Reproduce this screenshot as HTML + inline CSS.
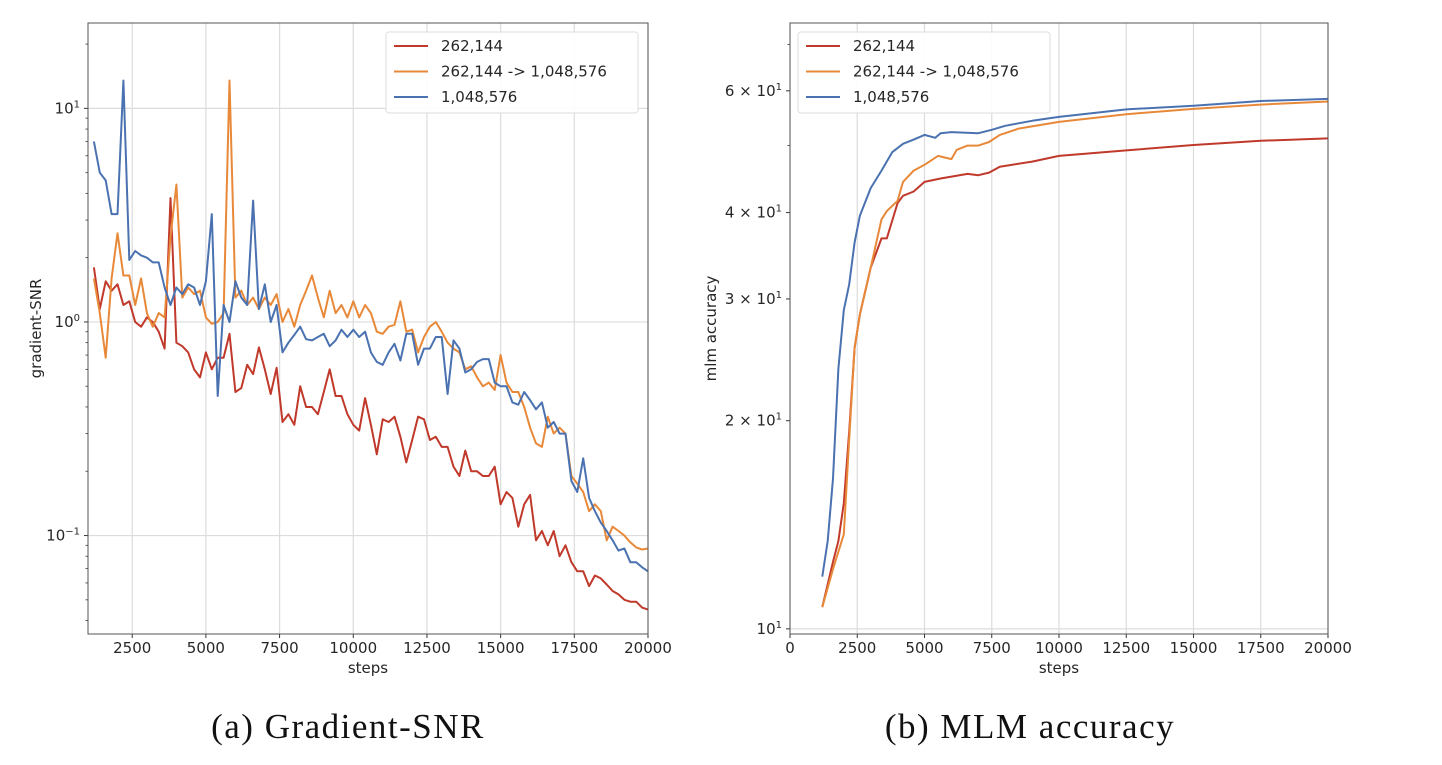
<!DOCTYPE html>
<html><head><meta charset="utf-8"><style>
body{margin:0;background:#fff;width:1442px;height:760px;overflow:hidden}
svg text{font-family:"DejaVu Sans","Liberation Sans",sans-serif;fill:#262626}
</style></head><body>
<svg id="fig" width="1442" height="760"></svg>
<script>
const stepsA=[];for(let s=1200;s<=20000;s+=200)stepsA.push(s);
const snrRed=[1.8,1.15,1.55,1.4,1.5,1.2,1.25,1.0,0.95,1.05,1.0,0.9,0.75,3.8,0.8,0.77,0.72,0.6,0.55,0.72,0.6,0.68,0.68,0.88,0.47,0.49,0.63,0.57,0.76,0.6,0.46,0.61,0.34,0.37,0.33,0.5,0.4,0.4,0.37,0.47,0.6,0.45,0.45,0.37,0.33,0.31,0.44,0.33,0.24,0.35,0.34,0.36,0.29,0.22,0.28,0.36,0.35,0.28,0.29,0.26,0.26,0.21,0.19,0.25,0.2,0.2,0.19,0.19,0.21,0.14,0.16,0.15,0.11,0.14,0.155,0.095,0.105,0.09,0.105,0.08,0.09,0.075,0.068,0.068,0.058,0.065,0.063,0.059,0.055,0.053,0.05,0.049,0.049,0.046,0.045];
const snrOrange=[1.6,1.1,0.68,1.6,2.6,1.65,1.65,1.2,1.6,1.1,0.95,1.1,1.05,2.5,4.4,1.3,1.45,1.35,1.4,1.05,0.98,1.0,1.1,13.5,1.3,1.4,1.2,1.3,1.15,1.3,1.2,1.35,1.0,1.15,0.95,1.2,1.4,1.65,1.3,1.05,1.4,1.1,1.2,1.05,1.25,1.05,1.2,1.1,0.9,0.88,0.95,0.97,1.25,0.9,0.92,0.72,0.85,0.95,1.0,0.9,0.8,0.75,0.72,0.6,0.62,0.55,0.5,0.52,0.48,0.7,0.52,0.47,0.47,0.4,0.32,0.27,0.26,0.36,0.3,0.32,0.3,0.19,0.175,0.16,0.13,0.14,0.13,0.095,0.11,0.105,0.1,0.093,0.088,0.086,0.087];
const snrBlue=[7.0,5.0,4.6,3.2,3.2,13.5,1.95,2.15,2.05,2.0,1.9,1.9,1.45,1.2,1.45,1.35,1.5,1.45,1.2,1.55,3.2,0.45,1.2,1.0,1.55,1.3,1.2,3.7,1.15,1.5,1.0,1.2,0.72,0.8,0.87,0.95,0.83,0.82,0.85,0.88,0.77,0.82,0.92,0.85,0.92,0.85,0.9,0.72,0.65,0.63,0.72,0.79,0.66,0.88,0.88,0.63,0.75,0.75,0.85,0.85,0.46,0.82,0.75,0.58,0.6,0.65,0.67,0.67,0.52,0.5,0.5,0.42,0.41,0.47,0.43,0.39,0.42,0.32,0.34,0.3,0.3,0.18,0.16,0.23,0.15,0.13,0.115,0.105,0.095,0.085,0.087,0.075,0.075,0.071,0.068];
const stepsBlue=[1200,1400,1600,1800,2000,2200,2400,2600,3000,3400,3800,4200,4600,5000,5400,5600,6000,7000,7500,8000,9000,10000,12500,15000,17500,20000];
const accBlue=[11.9,13.4,16.5,23.8,28.9,31.5,36.2,39.6,43.4,46,48.9,50.3,51.0,51.8,51.3,52.1,52.3,52.1,52.7,53.4,54.3,55.0,56.4,57.1,58.0,58.4];
const stepsOrange=[1200,1600,2000,2200,2400,2600,3000,3400,3600,4000,4200,4600,5000,5500,6000,6200,6600,7000,7400,7800,8500,10000,12500,15000,17500,20000];
const accOrange=[10.75,12.2,13.7,18.8,25.5,28.5,33.3,39.1,40.2,41.6,44.3,46.0,46.9,48.3,47.8,49.3,50.0,50.0,50.6,51.8,52.9,54.1,55.5,56.5,57.3,57.9];
const stepsRed=[1200,1600,1800,2000,2200,2400,2600,3000,3400,3600,4000,4200,4600,5000,5600,6600,7000,7400,7800,9000,10000,12500,15000,17500,20000];
const accRed=[10.75,12.5,13.4,15.2,19.3,25.5,28.5,33.3,36.7,36.7,41.3,42.3,42.9,44.3,44.8,45.5,45.3,45.7,46.6,47.4,48.3,49.2,50.1,50.8,51.2];
const xTicksA=[2500,5000,7500,10000,12500,15000,17500,20000];
const xTicksB=[0,2500,5000,7500,10000,12500,15000,17500,20000];
const legendLabels=["262,144","262,144 -> 1,048,576","1,048,576"];
const colors=["#c0392b","#e8893a","#4a72b0"];

const NS="http://www.w3.org/2000/svg";
const svg=document.getElementById('fig');
function mk(tag,attrs,parent,text){const e=document.createElementNS(NS,tag);for(const k in attrs)e.setAttribute(k,attrs[k]);if(text!==undefined)e.textContent=text;(parent||svg).appendChild(e);return e;}

function chart(o){
  const g=mk('g',{});
  
  
  const X=v=>o.L+(v-o.x0)/(o.x1-o.x0)*(o.R-o.L);
  const Y=v=>o.B-(Math.log10(v)-Math.log10(o.y0))/(Math.log10(o.y1)-Math.log10(o.y0))*(o.B-o.T);
  o.xTicks.forEach(t=>{
    const x=X(t);
    const gl=mk('line',{x1:x,x2:x,y1:o.T,y2:o.B,stroke:'#dcdcdc','stroke-width':1.2},g);
    
    mk('line',{x1:x,x2:x,y1:o.B,y2:o.B+4,stroke:'#333','stroke-width':1},g);
    const tl=mk('text',{x:x,y:o.B+19,'text-anchor':'middle','font-size':15},g,String(t));
    
  });
  o.yMajor.forEach(t=>{
    const y=Y(t.v);
    if(t.grid){const gl=mk('line',{x1:o.L,x2:o.R,y1:y,y2:y,stroke:'#dcdcdc','stroke-width':1.2},g);
      }
    mk('line',{x1:o.L-4,x2:o.L,y1:y,y2:y,stroke:'#333','stroke-width':1},g);
    const tl=mk('text',{x:o.L-8,y:y+5,'text-anchor':'end','font-size':15},g);
    
    const a=document.createElementNS(NS,'tspan');a.textContent=t.base;tl.appendChild(a);
    const b=document.createElementNS(NS,'tspan');b.setAttribute('dy','-6');b.setAttribute('font-size','10');b.textContent=t.exp;tl.appendChild(b);
  });
  o.yMinor.forEach(v=>{const y=Y(v);if(y>o.T&&y<o.B)mk('line',{x1:o.L-2.5,x2:o.L,y1:y,y2:y,stroke:'#333','stroke-width':0.8},g);});
  o.series.forEach((s,i)=>{
    const d=s.xs.map((x,j)=>(j?'L':'M')+X(x).toFixed(1)+','+Y(s.ys[j]).toFixed(1)).join('');
    const p=mk('path',{d:d,fill:'none',stroke:colors[i],'stroke-width':2,'stroke-linejoin':'round'},g);
    
    
  });
  const fr=mk('rect',{x:o.L,y:o.T,width:o.R-o.L,height:o.B-o.T,fill:'none',stroke:'#555','stroke-width':1},g);
  
  const lg=mk('g',{},g);
  
  mk('rect',{x:o.lx,y:32,width:252,height:81,rx:3,fill:'#fff','fill-opacity':0.9,stroke:'#ddd'},lg);
  legendLabels.forEach((lab,i)=>{
    const y=46+i*25.5;
    const e=mk('g',{},lg);
    
    mk('line',{x1:o.lx+8,x2:o.lx+42,y1:y,y2:y,stroke:colors[i],'stroke-width':2},e);
    mk('text',{x:o.lx+55,y:y+5,'font-size':15},e,lab);
  });
  const xl=mk('text',{x:(o.L+o.R)/2,y:o.B+39,'text-anchor':'middle','font-size':15},g,'steps');
  
  const yl=mk('text',{x:o.ylx,y:(o.T+o.B)/2,'text-anchor':'middle','font-size':15,transform:`rotate(-90 ${o.ylx} ${(o.T+o.B)/2})`},g,o.ytitle);
  
  const cp=mk('text',{x:o.cx,y:738,'text-anchor':'middle','font-size':35,'letter-spacing':1.5,style:'font-family:"Liberation Serif",serif;fill:#111'},g,o.caption);
  
}
const minorA=[];[0.01,0.1,1,10].forEach(d=>{for(let k=2;k<=9;k++)minorA.push(k*d);});
chart({name:'gradient-snr-chart',L:88,R:648,T:23,B:634,x0:1000,x1:20000,y0:0.0346,y1:25.1,
  xTicks:xTicksA,yMajor:[{v:10,base:'10',exp:'1',grid:1},{v:1,base:'10',exp:'0',grid:1},{v:0.1,base:'10',exp:'−1',grid:1}],
  yMinor:minorA,series:[{xs:stepsA,ys:snrRed},{xs:stepsA,ys:snrOrange},{xs:stepsA,ys:snrBlue}],
  lx:386,ylx:41,ytitle:'gradient-SNR',cx:348,caption:'(a) Gradient-SNR'});
chart({name:'mlm-accuracy-chart',L:790,R:1328,T:23,B:634,x0:0,x1:20000,y0:9.83,y1:75.2,
  xTicks:xTicksB,yMajor:[{v:10,base:'10',exp:'1',grid:1},{v:20,base:'2 × 10',exp:'1'},{v:30,base:'3 × 10',exp:'1'},{v:40,base:'4 × 10',exp:'1'},{v:60,base:'6 × 10',exp:'1'}],
  yMinor:[50,70],series:[{xs:stepsRed,ys:accRed},{xs:stepsOrange,ys:accOrange},{xs:stepsBlue,ys:accBlue}],
  lx:798,ylx:716,ytitle:'mlm accuracy',cx:1030,caption:'(b) MLM accuracy'});
</script>
</body></html>
